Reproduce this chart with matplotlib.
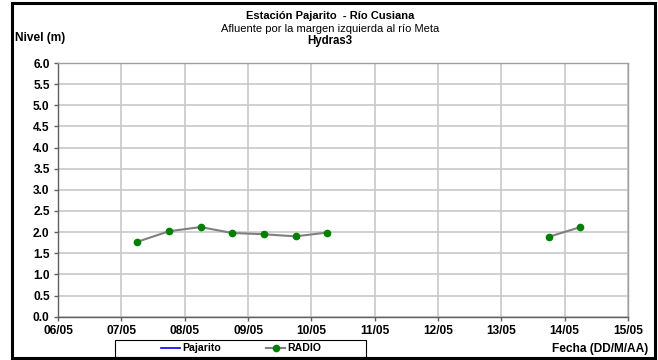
import matplotlib
matplotlib.use("Agg")
import matplotlib.pyplot as plt
from matplotlib.patches import Rectangle
from matplotlib.lines import Line2D

plt.rcParams['font.family'] = ['Liberation Sans', 'DejaVu Sans']

# Data (x = day of May, fractional)
seg1_x = [7.25, 7.75, 8.25, 8.75, 9.25, 9.75, 10.25]
seg1_y = [1.77, 2.02, 2.12, 1.98, 1.95, 1.90, 1.99]
seg2_x = [13.75, 14.25]
seg2_y = [1.89, 2.12]
x_ticks = [6, 7, 8, 9, 10, 11, 12, 13, 14, 15]
x_labels = ["06/05", "07/05", "08/05", "09/05", "10/05", "11/05", "12/05", "13/05", "14/05", "15/05"]
y_ticks = [0.0, 0.5, 1.0, 1.5, 2.0, 2.5, 3.0, 3.5, 4.0, 4.5, 5.0, 5.5, 6.0]

W, H = 658, 360
fig = plt.figure(figsize=(W/100, H/100), dpi=100)
ax = fig.add_axes([58/W, 1-316.7/H, (628-58)/W, (316.7-63)/H])

for xs, ys in [(seg1_x, seg1_y), (seg2_x, seg2_y)]:
    ax.plot(xs, ys, color='#808080', lw=1.5, zorder=3)
    ax.plot(xs, ys, ls='none', marker='o', ms=4.5, mfc='#008000', mec='#008000', zorder=4)

ax.set_xlim(6, 15)
ax.set_ylim(0, 6)
ax.set_xticks(x_ticks)
ax.set_xticklabels(x_labels)
ax.set_yticks(y_ticks)
ax.set_yticklabels([f"{v:.1f}" for v in y_ticks])
ax.grid(True, color='#c8c8c8', lw=1.2)
ax.set_axisbelow(True)
for s in ax.spines.values():
    s.set_color('#a0a0a0')
    s.set_linewidth(1.0)
ax.spines['left'].set_color('#606060')
ax.spines['bottom'].set_color('#606060')
ax.tick_params(axis='both', direction='out', length=3, width=1, color='#606060',
               labelsize=8.6, pad=3)
for lab in ax.get_xticklabels() + ax.get_yticklabels():
    lab.set_fontweight('bold')

# Titles
fig.text(330/W, 1-16/H, "Estación Pajarito  - Río Cusiana", ha='center', va='center',
         fontsize=8, fontweight='bold')
fig.text(330/W, 1-29/H, "Afluente por la margen izquierda al río Meta", ha='center', va='center',
         fontsize=8)
fig.text(330/W, 1-41/H, "Hydras3", ha='center', va='center', fontsize=8.3, fontweight='bold')
fig.text(15/W, 1-38/H, "Nivel (m)", ha='left', va='center', fontsize=8.6, fontweight='bold')
fig.text(648/W, 1-349/H, "Fecha (DD/M/AA)", ha='right', va='center', fontsize=8.6, fontweight='bold')

# Legend box
fig.patches.append(Rectangle((115/W, 1-357/H), (366-115)/W, 17/H, transform=fig.transFigure,
                             fill=False, ec='black', lw=0.8))
fig.lines.append(Line2D([161/W, 180/W], [1-348/H, 1-348/H], transform=fig.transFigure,
                        color='#0000ff', lw=1.2))
fig.text(182/W, 1-348/H, "Pajarito", ha='left', va='center', fontsize=7.6, fontweight='bold')
fig.lines.append(Line2D([266/W, 285/W], [1-348/H, 1-348/H], transform=fig.transFigure,
                        color='#808080', lw=1.5))
fig.lines.append(Line2D([276/W], [1-348/H], transform=fig.transFigure, ls='none',
                        marker='o', ms=4.5, mfc='#008000', mec='#008000'))
fig.text(287/W, 1-348/H, "RADIO", ha='left', va='center', fontsize=7.6, fontweight='bold')

# Outer frame
fig.patches.append(Rectangle((12/W, 2/H), (655-12)/W, (357-2)/H, transform=fig.transFigure,
                             fill=False, ec='black', lw=2.2))

fig.savefig("out.png", dpi=100)
